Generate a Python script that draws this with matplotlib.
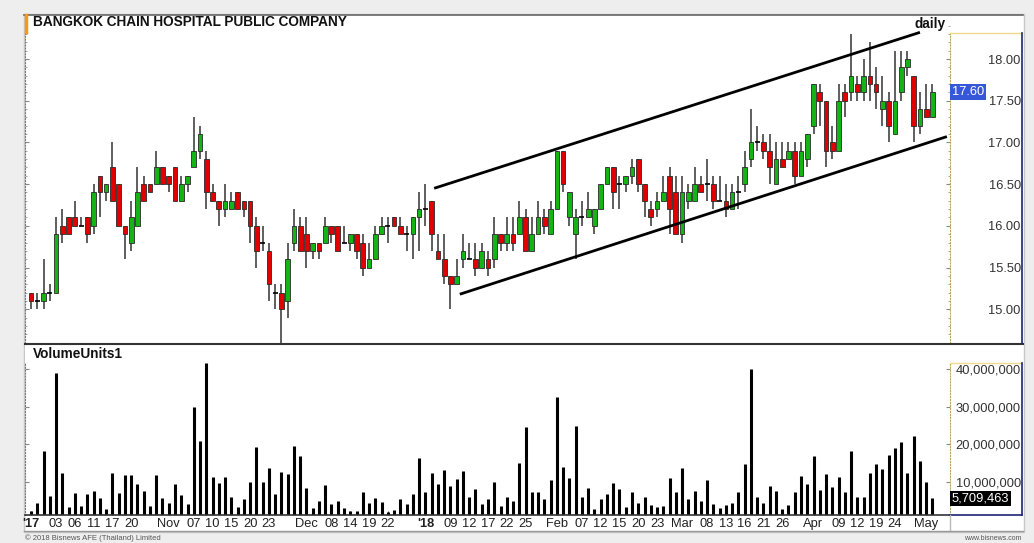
import matplotlib
matplotlib.use("Agg")
import matplotlib.pyplot as plt
from matplotlib.lines import Line2D
from matplotlib.patches import Rectangle
import numpy as np

plt.rcParams['font.family'] = ['Liberation Sans', 'DejaVu Sans']

title = "BANGKOK CHAIN HOSPITAL PUBLIC COMPANY"

# daily OHLC, 27 Sep 2017 .. 3 May 2018 (145 sessions)
opens = [
    15.2, 15.1, 15.1, 15.2, 15.2, 16.0, 16.1, 16.1, 16.0, 16.1,
    16.0, 16.6, 16.4, 16.7, 16.5, 16.0, 15.8, 16.0, 16.5, 16.5,
    16.5, 16.7, 16.6, 16.7, 16.3, 16.5, 16.7, 16.9, 16.8, 16.4,
    16.3, 16.2, 16.2, 16.4, 16.3, 16.3, 16.0, 15.8, 15.7, 15.2,
    15.2, 15.1, 15.8, 16.0, 15.9, 15.7, 15.8, 15.8, 16.0, 16.0,
    15.8, 15.8, 15.9, 15.8, 15.5, 15.6, 15.9, 16.0, 16.1, 16.0,
    15.9, 15.9, 16.1, 16.2, 16.3, 15.7, 15.6, 15.4, 15.3, 15.6,
    15.6, 15.6, 15.5, 15.6, 15.6, 15.9, 15.8, 15.9, 15.9, 16.1,
    15.7, 15.9, 16.1, 15.9, 16.2, 16.9, 16.1, 15.9, 16.1, 16.1,
    16.0, 16.2, 16.5, 16.7, 16.5, 16.5, 16.6, 16.8, 16.5, 16.2,
    16.2, 16.3, 16.6, 16.4, 15.9, 16.3, 16.3, 16.5, 16.5, 16.5,
    16.3, 16.3, 16.2, 16.4, 16.5, 16.8, 17.0, 17.0, 16.9, 16.5,
    16.8, 16.8, 16.9, 16.6, 16.8, 17.2, 17.6, 17.5, 17.0, 16.9,
    17.6, 17.6, 17.7, 17.6, 17.8, 17.7, 17.4, 17.5, 17.1, 17.6,
    17.9, 17.8, 17.2, 17.4, 17.3]
highs = [
    15.2, 15.2, 15.6, 15.3, 16.1, 16.2, 16.1, 16.3, 16.1, 16.1,
    16.5, 16.6, 16.5, 17.0, 16.5, 16.0, 16.3, 16.7, 16.6, 16.5,
    16.9, 16.7, 16.6, 16.7, 16.6, 16.6, 17.3, 17.2, 16.9, 16.5,
    16.3, 16.5, 16.4, 16.4, 16.3, 16.3, 16.1, 16.0, 15.8, 15.3,
    15.3, 15.8, 16.2, 16.1, 16.1, 15.8, 15.8, 16.1, 16.0, 16.0,
    16.0, 15.9, 15.9, 15.9, 15.8, 16.0, 16.1, 16.1, 16.1, 16.1,
    16.0, 16.1, 16.4, 16.5, 16.3, 15.9, 15.9, 15.4, 15.6, 15.9,
    15.8, 15.8, 15.8, 15.7, 16.1, 15.9, 16.1, 16.1, 16.3, 16.2,
    16.1, 16.3, 16.2, 16.3, 16.9, 16.9, 16.4, 16.2, 16.3, 16.4,
    16.2, 16.5, 16.7, 16.7, 16.6, 16.6, 16.8, 16.8, 16.5, 16.3,
    16.4, 16.6, 16.7, 16.6, 16.6, 16.5, 16.7, 16.6, 16.8, 16.6,
    16.6, 16.5, 16.5, 16.6, 16.9, 17.4, 17.2, 17.1, 17.1, 17.0,
    17.0, 17.0, 17.0, 17.0, 17.1, 17.7, 17.7, 17.5, 17.2, 17.7,
    17.7, 18.3, 17.8, 18.0, 18.2, 17.9, 17.8, 17.6, 18.1, 18.1,
    18.1, 17.8, 17.6, 17.7, 17.7]
lows = [
    15.0, 15.0, 15.0, 15.1, 15.2, 15.8, 15.9, 16.0, 16.0, 15.8,
    15.9, 16.1, 16.3, 16.3, 16.0, 15.6, 15.7, 16.0, 16.3, 16.4,
    16.5, 16.5, 16.4, 16.3, 16.3, 16.4, 16.7, 16.8, 16.2, 16.3,
    16.0, 16.1, 16.2, 16.2, 16.1, 15.8, 15.5, 15.7, 15.1, 15.0,
    14.6, 14.9, 15.7, 15.7, 15.5, 15.6, 15.6, 15.8, 15.8, 15.7,
    15.8, 15.7, 15.6, 15.4, 15.5, 15.6, 15.9, 15.8, 16.0, 15.9,
    15.7, 15.6, 15.7, 16.0, 15.7, 15.6, 15.3, 15.0, 15.3, 15.5,
    15.6, 15.4, 15.5, 15.4, 15.5, 15.7, 15.7, 15.7, 15.9, 15.7,
    15.7, 15.9, 15.9, 15.9, 16.2, 16.4, 16.0, 15.6, 16.0, 16.1,
    15.9, 16.2, 16.5, 16.2, 16.2, 16.4, 16.5, 16.4, 16.1, 16.0,
    16.1, 16.3, 15.9, 15.9, 15.8, 16.2, 16.3, 16.4, 16.3, 16.2,
    16.3, 16.1, 16.2, 16.2, 16.4, 16.7, 16.9, 16.8, 16.5, 16.5,
    16.7, 16.8, 16.5, 16.6, 16.7, 17.1, 17.2, 16.7, 16.8, 16.9,
    17.3, 17.5, 17.5, 17.5, 17.5, 17.4, 17.2, 17.0, 17.1, 17.5,
    17.8, 17.0, 17.1, 17.3, 17.3]
closes = [
    15.1, 15.1, 15.2, 15.2, 15.9, 15.9, 15.9, 16.0, 16.0, 15.9,
    16.4, 16.4, 16.5, 16.3, 16.0, 15.9, 16.1, 16.4, 16.3, 16.4,
    16.7, 16.5, 16.5, 16.3, 16.5, 16.6, 16.9, 17.1, 16.4, 16.3,
    16.2, 16.3, 16.3, 16.2, 16.2, 16.0, 15.7, 15.8, 15.3, 15.2,
    15.0, 15.6, 16.0, 15.7, 15.7, 15.8, 15.7, 16.0, 15.9, 15.7,
    15.8, 15.9, 15.7, 15.5, 15.6, 15.9, 16.0, 16.0, 16.0, 15.9,
    15.9, 16.1, 16.2, 16.2, 15.9, 15.6, 15.4, 15.3, 15.4, 15.7,
    15.6, 15.5, 15.7, 15.5, 15.9, 15.8, 15.9, 15.8, 16.1, 15.7,
    15.9, 16.1, 16.0, 16.2, 16.9, 16.5, 16.4, 16.1, 16.1, 16.2,
    16.2, 16.5, 16.7, 16.4, 16.5, 16.6, 16.7, 16.5, 16.3, 16.1,
    16.3, 16.4, 16.2, 15.9, 16.4, 16.4, 16.5, 16.4, 16.5, 16.3,
    16.3, 16.2, 16.4, 16.4, 16.7, 17.0, 17.0, 16.9, 16.7, 16.8,
    16.7, 16.9, 16.6, 16.9, 17.1, 17.7, 17.5, 16.9, 16.9, 17.5,
    17.5, 17.8, 17.6, 17.8, 17.7, 17.6, 17.5, 17.2, 17.5, 17.9,
    18.0, 17.2, 17.4, 17.3, 17.6]
# volume, million shares
volumes_m = [
    2.4, 4.3, 18.1, 6.3, 38.9, 12.5, 3.3, 7.0, 3.6, 6.7,
    7.7, 5.7, 2.9, 12.5, 7.0, 11.9, 11.9, 9.4, 7.7, 3.5,
    11.9, 5.7, 4.3, 9.4, 6.6, 4.2, 29.8, 21.0, 41.7, 11.2,
    9.6, 11.4, 6.0, 3.3, 5.5, 10.1, 19.4, 10.0, 13.6, 6.7,
    12.7, 12.1, 19.5, 16.9, 8.3, 3.2, 5.0, 9.2, 4.1, 5.0,
    3.1, 2.2, 2.2, 7.4, 4.3, 5.8, 4.6, 2.0, 2.6, 5.5,
    4.1, 6.9, 16.3, 7.4, 12.3, 9.5, 13.2, 9.0, 10.8, 12.9,
    6.1, 8.2, 4.2, 5.4, 10.1, 3.6, 6.1, 5.0, 15.1, 24.5,
    7.2, 7.2, 5.4, 10.4, 32.7, 14.1, 11.1, 25.0, 6.1, 8.3,
    2.8, 5.4, 6.7, 9.7, 8.1, 3.4, 7.2, 4.3, 6.1, 4.0,
    3.3, 3.6, 11.0, 7.2, 13.8, 5.4, 7.6, 5.0, 10.5, 4.1,
    3.1, 3.9, 4.5, 7.2, 14.7, 40.0, 6.1, 4.3, 9.0, 7.6,
    2.8, 3.9, 7.2, 11.6, 9.5, 16.8, 7.9, 12.0, 8.6, 11.2,
    7.2, 18.3, 6.1, 6.1, 12.3, 14.8, 13.5, 17.2, 19.1, 20.6,
    12.3, 22.2, 15.6, 10.1, 5.709463]

# date labels: session number (1 based) and text
tick_pos = [1, 5, 8, 11, 14, 17, 23, 27, 30, 33, 36, 39, 45, 49, 52, 55, 58,
            64, 68, 71, 74, 77, 80, 85, 89, 92, 95, 98, 101, 105, 109, 112,
            115, 118, 121, 126, 130, 133, 136, 139, 144]
tick_text = ["'17", "03", "06", "11", "17", "20", "Nov", "07", "10", "15", "20",
             "23", "Dec", "08", "14", "19", "22", "'18", "09", "12", "17", "22",
             "25", "Feb", "07", "12", "15", "20", "23", "Mar", "08", "13", "16",
             "21", "26", "Apr", "09", "12", "19", "24", "May"]

# hand drawn channel (session index, price)
upper_x = [64.4, 142.0]
upper_y = [16.45, 18.32]
lower_x = [68.5, 146.3]
lower_y = [15.18, 17.07]

price_ticks = [15.0, 15.5, 16.0, 16.5, 17.0, 17.5, 18.0]
vol_ticks = [10e6, 20e6, 30e6, 40e6]

W, H = 1034, 543


def fx(x):
    return x / W


def fy(y):
    return 1 - y / H


def fig_line(fig, x0, y0, x1, y1, color, lw=1.0, ls='-'):
    fig.add_artist(Line2D([fx(x0), fx(x1)], [fy(y0), fy(y1)], transform=fig.transFigure,
                          color=color, lw=lw, ls=ls, zorder=5))


o = np.array(opens)
h = np.array(highs)
l = np.array(lows)
c = np.array(closes)
vol = np.array(volumes_m) * 1e6
idx = np.arange(len(o))
up = c > o + 1e-9
down = c < o - 1e-9
flat = ~(up | down)

fig = plt.figure(figsize=(W / 100, H / 100), dpi=100, facecolor='#eeeeee')
fig.add_artist(Rectangle((fx(24), fy(532)), fx(1024) - fx(24), fy(14) - fy(532),
                         transform=fig.transFigure, fc='white', ec='#c8c8c8', lw=1, zorder=-1))

ax = fig.add_axes([fx(25), fy(343), (950 - 25) / W, (343 - 15) / H])
ax_vol = fig.add_axes([fx(25), fy(515), (950 - 25) / W, (515 - 345) / H], sharex=ax)

# candles
ax.vlines(idx, l, h, color='#333333', lw=1.1, zorder=2)
ax.bar(idx[up], (c - o)[up], bottom=o[up], width=0.75, color='#14b414',
       edgecolor='#2a2a2a', lw=0.6, zorder=3)
ax.bar(idx[down], (o - c)[down], bottom=c[down], width=0.75, color='#e00000',
       edgecolor='#2a2a2a', lw=0.6, zorder=3)
ax.hlines(c[flat], idx[flat] - 0.4, idx[flat] + 0.4, color='black', lw=1.2, zorder=3)

ax.plot(upper_x, upper_y, color='black', lw=2, solid_capstyle='butt', zorder=4)
ax.plot(lower_x, lower_y, color='black', lw=2, solid_capstyle='butt', zorder=4)

ax.set_xlim(-0.96, 146.8)
ax.set_ylim(14.595, 18.528)
ax.yaxis.tick_right()
ax.set_yticks(price_ticks)
ax.set_yticklabels([f"{v:.2f}" for v in price_ticks])
ax.set_yticks(np.arange(14.6, 18.45, 0.1), minor=True)
ax.tick_params(axis='y', which='major', left=True, right=True, direction='in', length=3,
               pad=51, labelsize=9.3, labelcolor='#333333', color='#888888')
ax.tick_params(axis='y', which='minor', left=True, right=True, direction='in', length=1.5,
               color='#999999')
for t in ax.get_yticklabels():
    t.set_ha('right')
ax.tick_params(axis='x', bottom=False, labelbottom=False)
for s in ['top', 'bottom']:
    ax.spines[s].set_visible(False)
ax.spines['left'].set_linestyle(':')
ax.spines['left'].set_color('#777777')
ax.spines['left'].set_bounds(14.595, 18.31)
ax.spines['right'].set_linestyle(':')
ax.spines['right'].set_color('#b8a45a')
ax.spines['right'].set_bounds(14.595, 18.31)

ax.text(1.002, c[-1], f"{c[-1]:.2f}", transform=ax.get_yaxis_transform(), ha='left',
        va='center', color='white', fontsize=9.3,
        bbox=dict(boxstyle='square,pad=0.15', fc='#3658d8', ec='none'), clip_on=False)

# volume
ax_vol.vlines(idx, 0, vol, color='black', lw=2.2, zorder=2)
ax_vol.set_ylim(1.22e6, 46.4e6)
ax_vol.yaxis.tick_right()
ax_vol.set_yticks(vol_ticks)
ax_vol.set_yticklabels([f"{int(v):,}" for v in vol_ticks])
ax_vol.tick_params(axis='y', left=True, right=True, direction='in', length=3, pad=51,
                   labelsize=9.3, labelcolor='#333333', color='#888888')
for t in ax_vol.get_yticklabels():
    t.set_ha('right')
ax_vol.set_xticks([p - 1 for p in tick_pos])
ax_vol.set_xticklabels(tick_text)
ax_vol.tick_params(axis='x', direction='in', length=3, pad=2, labelsize=9.3,
                   labelcolor='#222222', color='#555555')
for t in ax_vol.get_xticklabels():
    if t.get_text().startswith("'"):
        t.set_fontweight('bold')
ax_vol.spines['top'].set_visible(False)
ax_vol.spines['bottom'].set_color('#333333')
ax_vol.spines['bottom'].set_linewidth(1.2)
ax_vol.spines['left'].set_linestyle(':')
ax_vol.spines['left'].set_color('#777777')
ax_vol.spines['left'].set_bounds(1.22e6, 41.6e6)
ax_vol.spines['right'].set_linestyle(':')
ax_vol.spines['right'].set_color('#b8a45a')
ax_vol.spines['right'].set_bounds(1.22e6, 41.6e6)

ax_vol.text(1.002, vol[-1], f"{int(round(vol[-1])):,}", transform=ax_vol.get_yaxis_transform(),
            ha='left', va='center', color='white', fontsize=9.3,
            bbox=dict(boxstyle='square,pad=0.12', fc='black', ec='none'), clip_on=False)

# frame lines
fig_line(fig, 24, 15, 1023, 15, '#666666', 1.2)
fig_line(fig, 26, 15, 26, 32, '#f39c12', 2.5)
fig_line(fig, 25, 344, 1023, 344, '#333333', 1.5)
fig_line(fig, 950, 33, 1022, 33, '#f0d98a', 1)
fig_line(fig, 1022, 33, 1022, 343, '#1c2675', 1.2)
fig_line(fig, 950, 363, 1022, 363, '#f0d98a', 1)
fig_line(fig, 1022, 363, 1022, 515, '#1c2675', 1.2)
fig_line(fig, 950, 515, 1022, 515, '#1c2675', 1.2)
fig_line(fig, 950, 515, 950, 531, '#bbbbbb', 1)
fig_line(fig, 24, 531, 1023, 531, '#999999', 1)

fig.text(fx(33), fy(22), title, fontsize=9.8, fontweight='bold', va='center', color='#111111')
fig.text(fx(930), fy(24), 'daily', fontsize=9.8, fontweight='bold', ha='center', va='center',
         color='#111111')
fig.text(fx(33), fy(354), 'VolumeUnits1', fontsize=9.8, fontweight='bold', va='center',
         color='#111111')
fig.text(fx(25), fy(538), '\u00a9 2018 Bisnews AFE (Thailand) Limited', fontsize=5.5,
         va='center', color='#555555')
fig.text(fx(1022), fy(538), 'www.bisnews.com', fontsize=5, ha='right', va='center',
         color='#555555')

fig.savefig('out.png', dpi=100, facecolor=fig.get_facecolor())
